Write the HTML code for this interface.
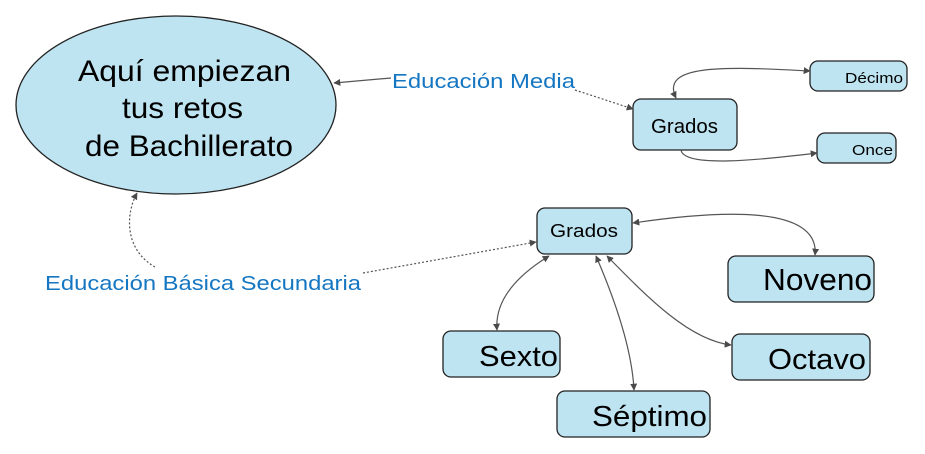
<!DOCTYPE html>
<html><head><meta charset="utf-8"><style>
html,body{margin:0;padding:0;background:#fff;}
svg{display:block;font-family:"Liberation Sans",Arial,sans-serif;}
</style></head><body>
<svg width="925" height="454" viewBox="0 0 925 454" xmlns="http://www.w3.org/2000/svg">
<defs>
<marker id="a" viewBox="0 0 10 10" refX="9" refY="5" markerWidth="7" markerHeight="7" orient="auto-start-reverse" markerUnits="userSpaceOnUse"><path d="M0,0 L10,5 L0,10 z" fill="#4a4a4a"/></marker>
</defs>
<g fill="#bfe4f1" stroke="#222" stroke-width="1.3">
<ellipse cx="176" cy="105" rx="160" ry="89"/>
<rect x="633" y="99" width="104" height="51" rx="8"/>
<rect x="810" y="61" width="97" height="30" rx="8"/>
<rect x="817" y="133" width="79" height="30" rx="8"/>
<rect x="537" y="208" width="95" height="46" rx="8"/>
<rect x="728" y="256" width="146" height="46" rx="8"/>
<rect x="443" y="331" width="117" height="46" rx="8"/>
<rect x="557" y="391" width="153" height="46" rx="8"/>
<rect x="732" y="334" width="138" height="46" rx="8"/>
</g>
<g fill="none" stroke="#555" stroke-width="1.2">
<path d="M391,78 L334,83" marker-end="url(#a)"/>
<path d="M575,90 L633,109" stroke-dasharray="2,2" marker-end="url(#a)"/>
<path d="M676,98 C660,65 720,66 810,71" marker-start="url(#a)" marker-end="url(#a)"/>
<path d="M681,150 C684,168 760,160 817,153" marker-end="url(#a)"/>
<path d="M155,267 C125,250 125,215 137,193" stroke-dasharray="2,2" marker-end="url(#a)"/>
<path d="M363,273 L536,242" stroke-dasharray="2,2" marker-end="url(#a)"/>
<path d="M633,223 C720,210 820,205 815,255" marker-start="url(#a)" marker-end="url(#a)"/>
<path d="M549,256 C510,280 495,305 497,330" marker-start="url(#a)" marker-end="url(#a)"/>
<path d="M596,256 C615,300 632,350 634,390" marker-start="url(#a)" marker-end="url(#a)"/>
<path d="M607,256 C650,300 690,340 731,345" marker-start="url(#a)" marker-end="url(#a)"/>
</g>
<g fill="#000" lengthAdjust="spacingAndGlyphs">
<text x="78" y="81" font-size="30" textLength="213" lengthAdjust="spacingAndGlyphs">Aquí empiezan</text>
<text x="122" y="118" font-size="30" textLength="121" lengthAdjust="spacingAndGlyphs">tus retos</text>
<text x="85" y="156" font-size="30" textLength="208" lengthAdjust="spacingAndGlyphs">de Bachillerato</text>
<text x="651" y="133" font-size="20" textLength="67" lengthAdjust="spacingAndGlyphs">Grados</text>
<text x="845" y="83" font-size="15" textLength="58" lengthAdjust="spacingAndGlyphs">Décimo</text>
<text x="852" y="155" font-size="15" textLength="41" lengthAdjust="spacingAndGlyphs">Once</text>
<text x="550" y="237" font-size="18" textLength="68" lengthAdjust="spacingAndGlyphs">Grados</text>
<text x="763" y="290" font-size="31" textLength="109" lengthAdjust="spacingAndGlyphs">Noveno</text>
<text x="479" y="366" font-size="29" textLength="79" lengthAdjust="spacingAndGlyphs">Sexto</text>
<text x="592" y="426" font-size="29" textLength="115" lengthAdjust="spacingAndGlyphs">Séptimo</text>
<text x="768" y="369" font-size="29" textLength="98" lengthAdjust="spacingAndGlyphs">Octavo</text>
</g>
<g fill="#1576c2" font-size="20">
<text x="392" y="88" textLength="183" lengthAdjust="spacingAndGlyphs">Educación Media</text>
<text x="45" y="290" textLength="316" lengthAdjust="spacingAndGlyphs">Educación Básica Secundaria</text>
</g>
</svg>
</body></html>
